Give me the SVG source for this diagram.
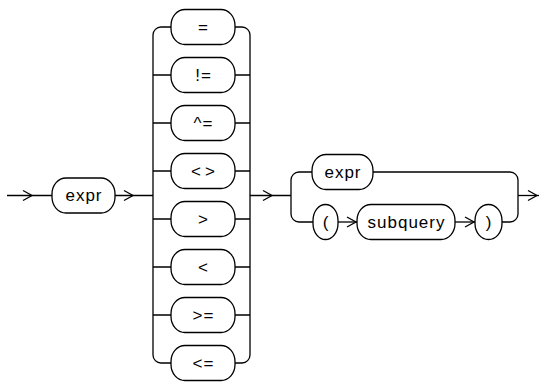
<svg xmlns="http://www.w3.org/2000/svg" width="539" height="383" viewBox="0 0 539 383">
<style>
.box{fill:#fff;stroke:#000;stroke-width:1.3}
.ln{fill:none;stroke:#000;stroke-width:1.3}
.chev{fill:none;stroke:#000;stroke-width:1.3}
text{font-family:"Liberation Sans",Arial,sans-serif;font-size:17px;letter-spacing:1px;fill:#000;text-anchor:middle;dominant-baseline:central}
text.wide{letter-spacing:4px}
</style>
<defs>
<path id="chev" class="chev" d="M-9,-5 L0,0 L-9,5"/>
</defs>
<rect width="539" height="383" fill="#fff"/>
<g id="connectors">
<path class="ln" d="M7,195.5 H52"/>
<path class="ln" d="M115,195.5 H153"/>
<path class="ln" d="M171,27 H161 A8,8 0 0 0 153,35 V355 A8,8 0 0 0 161,363 H171"/>
<path class="ln" d="M235,27 H242 A8,8 0 0 1 250,35 V355 A8,8 0 0 1 242,363 H235"/>
<path class="ln" d="M153,75 H171 M153,123 H171 M153,171 H171 M153,219 H171 M153,267 H171 M153,315 H171"/>
<path class="ln" d="M235,75 H250 M235,123 H250 M235,171 H250 M235,219 H250 M235,267 H250 M235,315 H250"/>
<path class="ln" d="M250,195.5 H291"/>
<path class="ln" d="M312,172 H299 A8,8 0 0 0 291,180 V214 A8,8 0 0 0 299,222 H313"/>
<path class="ln" d="M338,222 H357"/>
<path class="ln" d="M455,222 H475"/>
<path class="ln" d="M373,172 H510 A8,8 0 0 1 518,180 V214 A8,8 0 0 1 510,222 H502"/>
<path class="ln" d="M518,195.5 H539"/>
<use href="#chev" x="32" y="195.5"/>
<use href="#chev" x="133" y="195.5"/>
<use href="#chev" x="272" y="195.5"/>
<use href="#chev" x="356" y="222"/>
<use href="#chev" x="474" y="222"/>
<use href="#chev" x="537" y="195.5"/>
</g>
<g id="expr1"><rect class="box" x="52" y="178" width="63" height="35" rx="14" ry="16"/><text x="84" y="195.5">expr</text></g>
<g id="op-eq"><rect class="box" x="171" y="9.5" width="64" height="35" rx="14" ry="16"/><text x="203.5" y="27">=</text></g>
<g id="op-ne"><rect class="box" x="171" y="57.5" width="64" height="35" rx="14" ry="16"/><text x="203.5" y="75">!=</text></g>
<g id="op-caret-eq"><rect class="box" x="171" y="105.5" width="64" height="35" rx="14" ry="16"/><text x="203.5" y="123">^=</text></g>
<g id="op-ltgt"><rect class="box" x="171" y="153.5" width="64" height="35" rx="14" ry="16"/><text class="wide" x="205" y="171">&lt;&gt;</text></g>
<g id="op-gt"><rect class="box" x="171" y="201.5" width="64" height="35" rx="14" ry="16"/><text x="203.5" y="219">&gt;</text></g>
<g id="op-lt"><rect class="box" x="171" y="249.5" width="64" height="35" rx="14" ry="16"/><text x="203.5" y="267">&lt;</text></g>
<g id="op-ge"><rect class="box" x="171" y="297.5" width="64" height="35" rx="14" ry="16"/><text x="203.5" y="315">&gt;=</text></g>
<g id="op-le"><rect class="box" x="171" y="345.5" width="64" height="35" rx="14" ry="16"/><text x="203.5" y="363">&lt;=</text></g>
<g id="expr2"><rect class="box" x="312" y="154.5" width="61" height="35" rx="14" ry="16"/><text x="343" y="172">expr</text></g>
<g id="lparen"><rect class="box" x="313" y="204.5" width="25" height="35" rx="12.5" ry="16"/><text x="326" y="222">(</text></g>
<g id="subquery"><rect class="box" x="357" y="204.5" width="98" height="35" rx="14" ry="16"/><text x="406.5" y="222">subquery</text></g>
<g id="rparen"><rect class="box" x="475" y="204.5" width="27" height="35" rx="13.5" ry="16"/><text x="489" y="222">)</text></g>
</svg>
